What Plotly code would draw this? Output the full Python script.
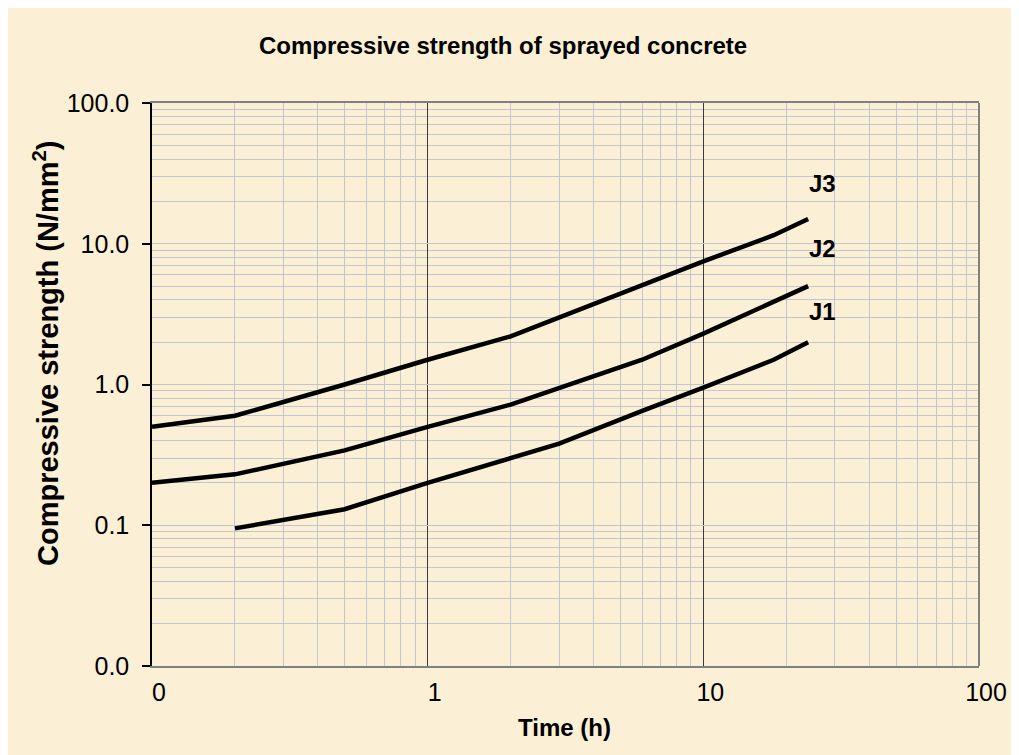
import math
import plotly.graph_objects as go

# ---- data ----
time_j3 = [0.1, 0.2, 0.5, 1, 2, 3, 6, 10, 18, 24]
j3 = [0.5, 0.6, 1.0, 1.5, 2.2, 3.0, 5.0, 7.5, 11.5, 15.0]

time_j2 = [0.1, 0.2, 0.5, 1, 2, 3, 6, 10, 18, 24]
j2 = [0.2, 0.23, 0.34, 0.5, 0.72, 0.95, 1.5, 2.3, 3.9, 5.0]

time_j1 = [0.2, 0.5, 1, 2, 3, 6, 10, 18, 24]
j1 = [0.095, 0.13, 0.2, 0.3, 0.38, 0.65, 0.95, 1.5, 2.0]

series_names = ["J1", "J2", "J3"]
label_x = [24, 24, 24]
label_y = [3.3, 9.2, 27.0]

x_tickvals = [0.1, 1, 10, 100]
x_ticktext = ["0", "1", "10", "100"]
y_tickvals = [0.01, 0.1, 1, 10, 100]
y_ticktext = ["0.0", "0.1", "1.0", "10.0", "100.0"]

title_text = "Compressive strength of sprayed concrete"
x_title = "Time (h)"
y_title = "Compressive strength (N/mm<sup>2</sup>)"

x_minor = [k * 10 ** d for d in (-1, 0, 1) for k in range(2, 10)]
y_minor = [k * 10 ** d for d in (-2, -1, 0, 1) for k in range(2, 10)]

BG = "#FBEFD5"
FONT = "Liberation Sans, Arial, sans-serif"

fig = go.Figure()
for xs, ys, nm in [(time_j1, j1, "J1"), (time_j2, j2, "J2"), (time_j3, j3, "J3")]:
    fig.add_trace(go.Scatter(x=xs, y=ys, mode="lines", name=nm,
                             line=dict(color="black", width=4.5),
                             showlegend=False, hoverinfo="x+y+name"))

# page is offset by the 8px body margin
OFF = 8
W, H = 1019, 755
ML, MT = 152 - OFF, 103 - OFF
PR, PB = 979 - OFF, 666 - OFF
MR, MB = W - PR, H - PB
PW, PH = PR - ML, PB - MT


def px_to_paper(px, py):
    return (px - OFF - ML) / PW, (PB - (py - OFF)) / PH


annotations = []
for nm, lx, ly in zip(series_names, label_x, label_y):
    annotations.append(dict(x=math.log10(lx), y=math.log10(ly), xref="x", yref="y",
                            text="<b>%s</b>" % nm, showarrow=False,
                            xanchor="left", yanchor="middle", xshift=-1,
                            font=dict(family=FONT, size=24, color="black")))

tx, ty = px_to_paper(503, 45)
annotations.append(dict(x=tx, y=ty, xref="paper", yref="paper", text="<b>%s</b>" % title_text,
                        showarrow=False, xanchor="center", yanchor="middle",
                        font=dict(family=FONT, size=24, color="black")))
ax_x, ax_y = px_to_paper(564, 727)
annotations.append(dict(x=ax_x, y=ax_y, xref="paper", yref="paper", text="<b>%s</b>" % x_title,
                        showarrow=False, xanchor="center", yanchor="middle",
                        font=dict(family=FONT, size=24, color="black")))
ay_x, ay_y = px_to_paper(46, 354)
annotations.append(dict(x=ay_x, y=ay_y, xref="paper", yref="paper", text="<b>%s</b>" % y_title,
                        showarrow=False, xanchor="center", yanchor="middle", textangle=-90,
                        font=dict(family=FONT, size=29, color="black")))

fig.update_layout(
    width=W, height=H,
    margin=dict(l=ML, r=MR, t=MT, b=MB, pad=0),
    paper_bgcolor=BG, plot_bgcolor="rgba(0,0,0,0)",
    font=dict(family=FONT, color="black"),
    annotations=annotations,
    shapes=[dict(type="line", xref="paper", yref="paper", x0=1, x1=1, y0=0, y1=1,
                 line=dict(color="#808080", width=2), layer="above")],
)

fig.update_xaxes(
    type="log", range=[-1, 2],
    tickmode="array", tickvals=x_tickvals, ticktext=x_ticktext,
    tickfont=dict(size=25, family=FONT, color="black"),
    ticks="", showgrid=True, gridcolor="#3a3a3a", gridwidth=1,
    minor=dict(tickmode="array", tickvals=x_minor, showgrid=True,
               gridcolor="#c3c6cc", gridwidth=1, ticks=""),
    showline=True, linecolor="#808080", linewidth=2, mirror=True,
    zeroline=False, ticklabelstandoff=3, ticklabelshift=7,
)
fig.update_yaxes(
    type="log", range=[-2, 2],
    tickmode="array", tickvals=y_tickvals, ticktext=y_ticktext,
    tickfont=dict(size=25, family=FONT, color="black"),
    ticks="outside", ticklen=8, tickcolor="black", tickwidth=1.5,
    showgrid=True, gridcolor="#c3c6cc", gridwidth=1,
    minor=dict(tickmode="array", tickvals=y_minor, showgrid=True,
               gridcolor="#c3c6cc", gridwidth=1, ticks=""),
    showline=True, linecolor="black", linewidth=1.5, mirror=False,
    zeroline=False, ticklabelstandoff=8,
)

fig.write_html("out.html")
